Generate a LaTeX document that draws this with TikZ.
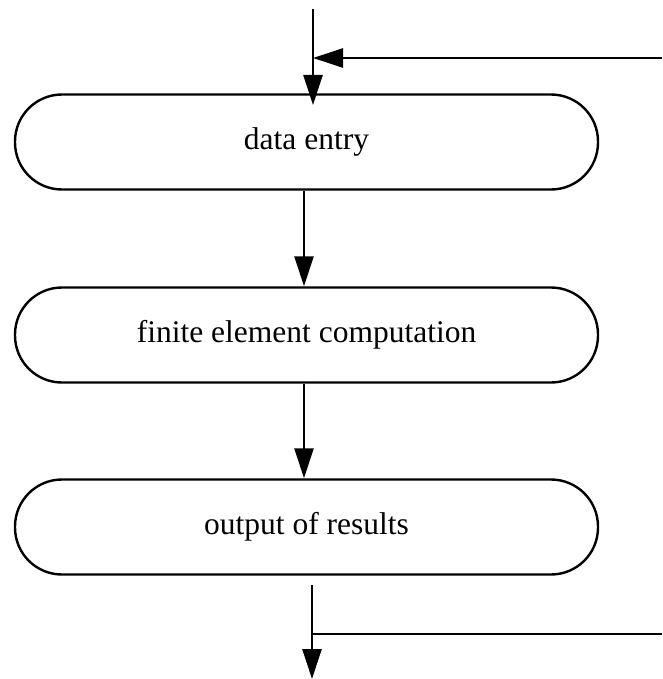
\documentclass[tikz,border=0pt]{standalone}
\usepackage{fontspec}
\setmainfont{Liberation Serif}
\usetikzlibrary{arrows.meta}
\begin{document}
\begin{tikzpicture}[x=1pt,y=1pt,
  procbox/.style={draw, line width=2.4pt, rounded corners=47pt, minimum width=583pt, minimum height=95pt, inner sep=0pt, font=\fontsize{31.5}{36}\selectfont},
  flow/.style={line width=2.4pt, -{Triangle[length=30pt,width=19pt]}},
  plain/.style={line width=2.4pt}]
\useasboundingbox (0,0) rectangle (662,-679);
\node[procbox] (b1) at (306.5,-142) {data entry};
\node[procbox] (b2) at (306.5,-335) {finite element computation};
\node[procbox] (b3) at (306.5,-527) {output of results};
\coordinate (topin) at (313,-9);
\coordinate (topend) at (313,-105);
\coordinate (join) at (313,-58);
\coordinate (rin) at (662,-58);
\draw[flow] (topin) -- (topend);
\draw[flow] (rin) -- (join);
\draw[flow] ([xshift=-2.5pt]b1.south) -- ([xshift=-2.5pt]b2.north);
\draw[flow] ([xshift=-2.5pt]b2.south) -- ([xshift=-2.5pt]b3.north);
\coordinate (botin) at (312,-585);
\coordinate (botjoin) at (312,-634);
\coordinate (rout) at (662,-634);
\coordinate (botend) at (312,-679);
\draw[flow] (botin) -- (botend);
\draw[plain] (botjoin) -- (rout);
\end{tikzpicture}
\end{document}
